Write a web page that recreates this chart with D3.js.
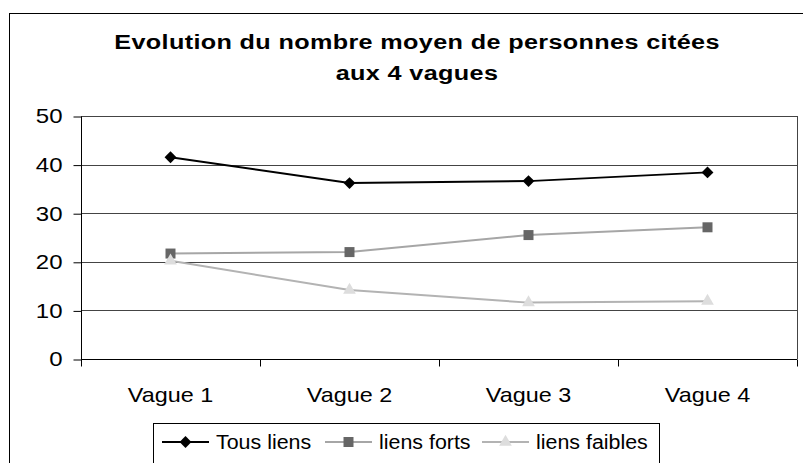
<!DOCTYPE html>
<html>
<head>
<meta charset="utf-8">
<script src="https://cdn.jsdelivr.net/npm/d3@7"></script>
<style>
  body { margin: 0; background: #fff; }
  svg { font-family: "Liberation Sans", Arial, sans-serif; }
</style>
</head>
<body>
<div id="chart"></div>
<script>
// Data
var categories = ["Vague 1", "Vague 2", "Vague 3", "Vague 4"];
var tousLiens = [41.5, 36.2, 36.6, 38.4];
var liensForts = [21.7, 22.0, 25.5, 27.1];
var liensFaibles = [20.2, 14.2, 11.6, 11.9];
var yTicks = [0, 10, 20, 30, 40, 50];
var titleLines = ["Evolution du nombre moyen de personnes citées", "aux 4 vagues"];

var series = [
    { name: "Tous liens", values: tousLiens, line: "#000", marker: "#000", shape: d3.symbolDiamond2, size: 90 },
    { name: "liens forts", values: liensForts, line: "#a6a6a6", marker: "#666", shape: d3.symbolSquare, size: 100 },
    { name: "liens faibles", values: liensFaibles, line: "#b3b3b3", marker: "#ddd", shape: d3.symbolTriangle, size: 70 }
];

var width = 803, height = 463;
var plot = { left: 81, right: 797, top: 116, bottom: 359 };
var yStretch = 1.2;   // the original picture is a little wider than Arial

var svg = d3.select("#chart").append("svg").attr("width", width).attr("height", height);

// Draws text squeezed horizontally around its anchor point
function stretchedText(parent, x, y, str, anchor, size, sx) {
    return parent.append("g").attr("transform", "translate(" + x + "," + y + ") scale(" + sx + ",1)")
        .append("text").attr("text-anchor", anchor).attr("font-size", size).text(str);
}

// Outer chart border (runs off the right and bottom edges)
svg.append("rect").attr("x", 9.5).attr("y", 13.5).attr("width", 830).attr("height", 480)
    .attr("fill", "#fff").attr("stroke", "#000").attr("stroke-width", 1);

// Title
titleLines.forEach(function(t, i) {
    stretchedText(svg, 417, 49 + i * 31, t, "middle", 21, 1.2)
        .attr("font-weight", "bold").attr("letter-spacing", 0.3);
});

var x = d3.scaleBand().domain(categories).range([plot.left, plot.right]);
var y = d3.scaleLinear().domain([0, 50]).range([plot.bottom, plot.top]);

// Gridlines
svg.append("g").selectAll("line").data(yTicks).enter().append("line")
    .attr("x1", plot.left).attr("x2", plot.right)
    .attr("y1", function(d) { return Math.round(y(d)) + 0.5; })
    .attr("y2", function(d) { return Math.round(y(d)) + 0.5; })
    .attr("stroke", "#444").attr("stroke-width", 1);

// Right edge of the plot area
svg.append("line").attr("x1", plot.right + 0.5).attr("x2", plot.right + 0.5)
    .attr("y1", plot.top).attr("y2", plot.bottom).attr("stroke", "#444");

// Y axis
var yAxis = svg.append("g").attr("transform", "translate(" + (plot.left + 0.5) + ",0.5)")
    .call(d3.axisLeft(y).tickValues(yTicks).tickSize(8).tickPadding(11).tickFormat(d3.format("d")));
yAxis.select(".domain").attr("stroke", "#000").attr("d", "M0," + plot.top + "V" + plot.bottom);
yAxis.selectAll("text")
    .attr("font-size", 20).attr("font-family", "Liberation Sans, Arial, sans-serif").attr("fill", "#000")
    .attr("x", -19 / yStretch).attr("transform", "scale(" + yStretch + ",1)");

// X axis: ticks sit between categories
var xAxis = svg.append("g").attr("transform", "translate(0," + (Math.round(plot.bottom) + 0.5) + ")");
xAxis.append("line").attr("x1", plot.left).attr("x2", plot.right).attr("stroke", "#000");
var bounds = categories.map(function(c) { return x(c); }).concat([plot.right]);
xAxis.selectAll(".tick").data(bounds).enter().append("line")
    .attr("x1", function(d) { return Math.round(d) + 0.5; })
    .attr("x2", function(d) { return Math.round(d) + 0.5; })
    .attr("y1", 0).attr("y2", 7).attr("stroke", "#000");
categories.forEach(function(c) {
    stretchedText(xAxis, x(c) + x.bandwidth() / 2, 42, c, "middle", 20, 1.17);
});

// Series lines and markers
var line = d3.line()
    .x(function(d, i) { return x(categories[i]) + x.bandwidth() / 2; })
    .y(function(d) { return y(d); });

series.forEach(function(s) {
    svg.append("path").datum(s.values).attr("d", line)
        .attr("fill", "none").attr("stroke", s.line).attr("stroke-width", 2);
});
series.forEach(function(s) {
    var sym = d3.symbol().type(s.shape).size(s.size);
    svg.append("g").selectAll("path").data(s.values).enter().append("path")
        .attr("d", sym)
        .attr("transform", function(d, i) {
            return "translate(" + (x(categories[i]) + x.bandwidth() / 2) + "," + y(d) + ")";
        })
        .attr("fill", s.marker);
});

// Legend
var legend = svg.append("g");
legend.append("rect").attr("x", 153.5).attr("y", 423.5).attr("width", 506).attr("height", 60)
    .attr("fill", "#fff").attr("stroke", "#000");
var legendX = [162, 325, 482];
series.forEach(function(s, i) {
    var g = legend.append("g").attr("transform", "translate(" + legendX[i] + ",442)");
    g.append("line").attr("x1", 0).attr("x2", 47).attr("stroke", s.line).attr("stroke-width", 2);
    g.append("path").attr("d", d3.symbol().type(s.shape).size(s.size)).attr("transform", "translate(23.5,0)").attr("fill", s.marker);
    stretchedText(g, 54, 7, s.name, "start", 20, 1.07);
});
</script>
</body>
</html>
